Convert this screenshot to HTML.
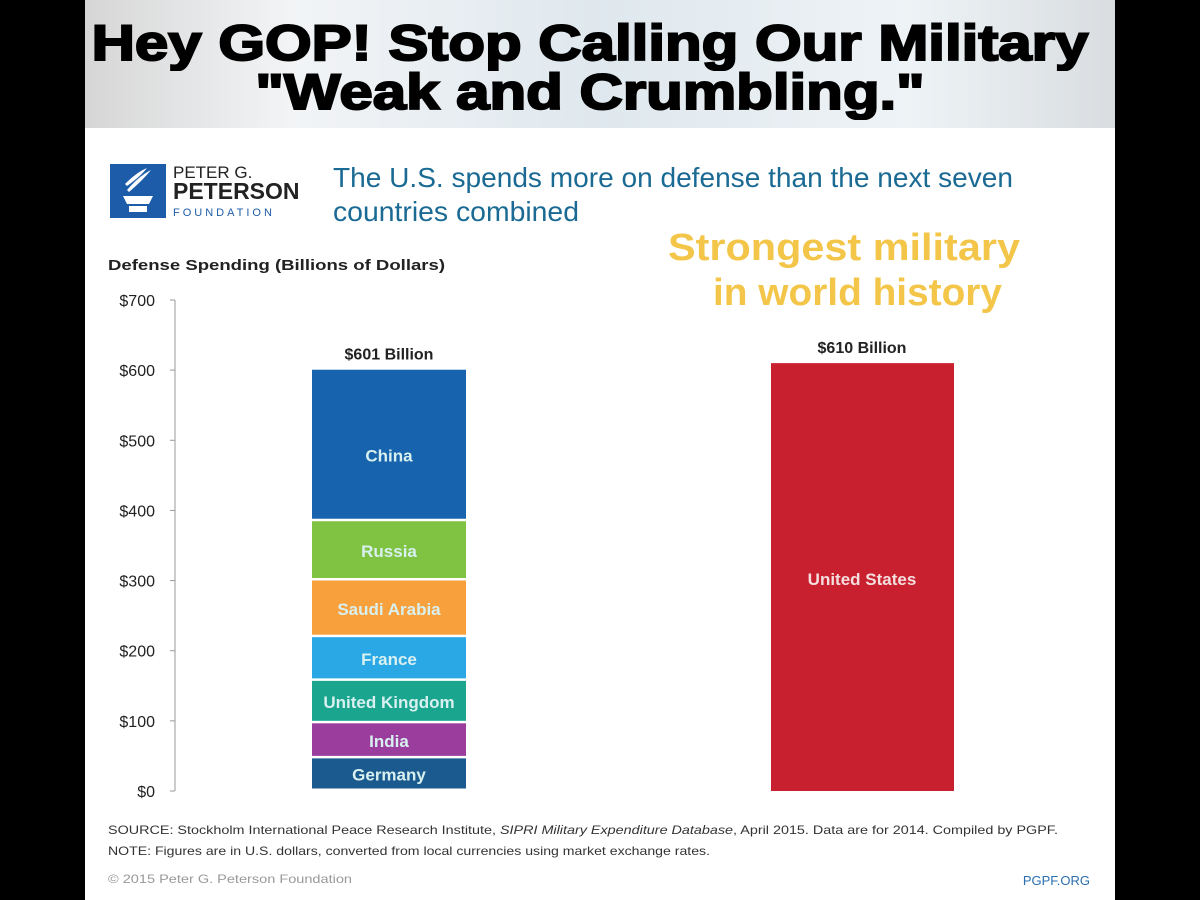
<!DOCTYPE html>
<html><head><meta charset="utf-8"><style>
body{margin:0;width:1200px;height:900px;background:#000;overflow:hidden;font-family:"Liberation Sans",sans-serif}
#page{position:absolute;left:85px;top:0;width:1030px;height:900px;background:#fff}
#banner{position:absolute;left:0;top:0;width:1030px;height:128px;background:linear-gradient(90deg,#d6d6d6 0%,#f2f4f6 20%,#dfe8ee 50%,#eef3f6 80%,#d9dde0 100%)}
.t{position:absolute;left:-10px;width:1030px;text-align:center;font-weight:bold;font-size:50px;color:#000;-webkit-text-stroke:2px #000;transform:scaleX(1.2);transform-origin:515px 0}
</style></head><body>
<div id="page">
<div id="banner">
<div class="t" style="top:14px">Hey GOP! Stop Calling Our Military</div>
<div class="t" style="top:63px">"Weak and Crumbling."</div>
</div>
<svg width="1030" height="900" style="position:absolute;left:0;top:0" id="chart">
<g>
<rect x="25" y="164" width="56" height="54" fill="#1d5ca8"/>
<path d="M38 196 h30 l-4 8 h-22 z M44 206 h18 v6 h-18 z M42 190 q12-14 24-20 q-8 10-22 22z M40 184 q12-12 22-16 q-6 8-20 18z" fill="#fff"/>
<text x="88" y="178" font-size="17" fill="#222">PETER G.</text>
<text x="88" y="199" font-size="23" font-weight="bold" fill="#222">PETERSON</text>
<text x="88" y="216" font-size="11" fill="#1d5ca8" letter-spacing="3">FOUNDATION</text>
</g>
<text x="248" y="187" font-size="28" fill="#1a6a94" textLength="680" lengthAdjust="spacingAndGlyphs">The U.S. spends more on defense than the next seven</text>
<text x="248" y="221" font-size="28" fill="#1a6a94" textLength="246" lengthAdjust="spacingAndGlyphs">countries combined</text>
<text x="583" y="260" font-size="38" font-weight="bold" fill="#f3c64a" textLength="352" lengthAdjust="spacingAndGlyphs">Strongest military</text>
<text x="628" y="305" font-size="38" font-weight="bold" fill="#f3c64a" textLength="289" lengthAdjust="spacingAndGlyphs">in world history</text>
<text x="23" y="270" font-size="15" font-weight="bold" fill="#222" textLength="337" lengthAdjust="spacingAndGlyphs">Defense Spending (Billions of Dollars)</text>
<g id="axis"></g><g id="bars"></g>
<text x="23" y="834" font-size="12" fill="#333" textLength="950" lengthAdjust="spacingAndGlyphs">SOURCE: Stockholm International Peace Research Institute, <tspan font-style="italic">SIPRI Military Expenditure Database</tspan>, April 2015. Data are for 2014. Compiled by PGPF.</text>
<text x="23" y="855" font-size="12" fill="#333" textLength="602" lengthAdjust="spacingAndGlyphs">NOTE: Figures are in U.S. dollars, converted from local currencies using market exchange rates.</text>
<text x="23" y="883" font-size="12" fill="#999" textLength="244" lengthAdjust="spacingAndGlyphs">© 2015 Peter G. Peterson Foundation</text>
<text x="1005" y="885" font-size="13" fill="#2a6fb0" text-anchor="end">PGPF.ORG</text>
</svg>
</div>
<script>
const ticks=[0,100,200,300,400,500,600,700];
const countries=["Germany","India","United Kingdom","France","Saudi Arabia","Russia","China"];
const values=[46.5,50,60.5,62.3,80.8,84.5,216];
const colors=["#1b5a8e","#9a3d9c","#1aa58f","#2aa8e6","#f7a03c","#80c342","#1763ad"];
const usValue=610;
const ns="http://www.w3.org/2000/svg";
const y=v=>791-v*(491/700);
function mk(t,a,p){const e=document.createElementNS(ns,t);for(const k in a)e.setAttribute(k,a[k]);p.appendChild(e);return e;}
const ax=document.getElementById('axis'),bs=document.getElementById('bars');
const axl=mk('line',{x1:90,x2:90,y1:y(700),y2:y(0),stroke:'#999','stroke-width':1},ax);


ticks.forEach(t=>{
 const tk=mk('line',{x1:85,x2:90,y1:y(t),y2:y(t),stroke:'#999'},ax);
 
 
 const l=mk('text',{x:70,y:y(t)+6,'font-size':16,fill:'#222','text-anchor':'end'},ax);
 l.textContent='$'+t;
 
 
});
let cum=0;const sx=227,sw=154;
countries.forEach((c,i)=>{
 const y0=y(cum),y1=y(cum+values[i]);cum+=values[i];
 const r=mk('rect',{x:sx,y:y1,width:sw,height:Math.max(0,y0-y1-2.5),fill:colors[i]},bs);
 
 
 const tx=mk('text',{x:sx+sw/2,y:(y0+y1)/2+6+(i==countries.length-1?10:0),'font-size':17,'font-weight':'bold',fill:'#d8f0f0','text-anchor':'middle'},bs);
 tx.textContent=c;
 
 
});
const tl=mk('text',{x:sx+sw/2,y:y(cum)-10,'font-size':16,'font-weight':'bold',fill:'#222','text-anchor':'middle'},bs);
tl.textContent='$'+Math.round(cum)+' Billion';


const us=mk('rect',{x:686,y:y(usValue),width:183,height:y(0)-y(usValue),fill:'#c8202f'},bs);


const ut=mk('text',{x:777,y:(y(usValue)+y(0))/2+8,'font-size':17,'font-weight':'bold',fill:'#f4dede','text-anchor':'middle'},bs);
ut.textContent='United States';


const ul=mk('text',{x:777,y:y(usValue)-10,'font-size':16,'font-weight':'bold',fill:'#222','text-anchor':'middle'},bs);
ul.textContent='$'+usValue+' Billion';


</script>
</body></html>
